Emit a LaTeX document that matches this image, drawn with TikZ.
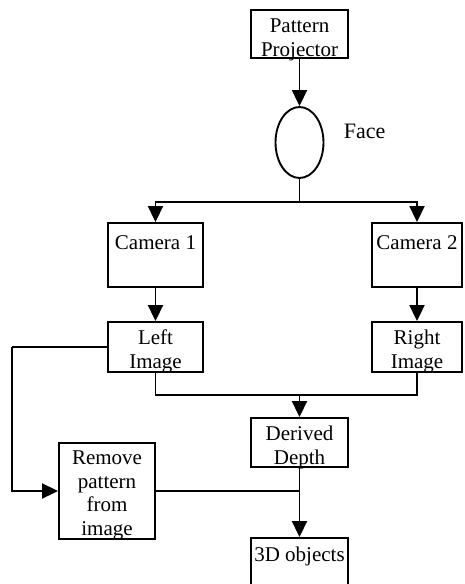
\documentclass[tikz,border=0pt]{standalone}
\usepackage{fontspec}
\setmainfont{Liberation Serif}
\usetikzlibrary{shapes.geometric,arrows.meta}
\begin{document}
\begin{tikzpicture}[x=1pt,y=-1pt,
  line width=1.9pt,
  box/.style={draw,rectangle,inner sep=0pt,minimum width=#1},
  txt/.style={align=center,inner sep=0pt,anchor=north,font=\fontsize{21}{23.5}\selectfont},
  arr/.style={-{Triangle[length=16pt,width=15pt]}}
]
\useasboundingbox (0,0) rectangle (465,584);
\clip (0,0) rectangle (465,584);
% boxes
\node[box=97, minimum height=48] (proj) at (299.5,34) {};
\node[draw,ellipse,inner sep=0pt,minimum width=48,minimum height=71] (face) at (299.5,142.5) {};
\node[box=95, minimum height=64] (cam1) at (155.5,255) {};
\node[box=90, minimum height=64] (cam2) at (417,255) {};
\node[box=95, minimum height=50] (limg) at (155.5,347) {};
\node[box=90, minimum height=50] (rimg) at (417,347) {};
\node[box=97, minimum height=49] (dd) at (299.5,442.5) {};
\node[box=96, minimum height=96] (rem) at (107,491) {};
\node[box=97, minimum height=70] (obj) at (299.5,573) {};
% texts
\node[txt] (tproj) at (299.5,15.5) {\strut Pattern\\Projector};
\node[inner sep=0pt,anchor=base west,font=\fontsize{22}{23.5}\selectfont] (tface) at (343,138) {Face};
\node[txt] (tcam1) at (155.5,231.8) {\strut Camera 1};
\node[txt] (tcam2) at (417,231.8) {\strut Camera 2};
\node[txt] (tlimg) at (155.5,327.5) {\strut Left\\Image};
\node[txt] (trimg) at (417,327.5) {\strut Right\\Image};
\node[txt] (tdd) at (299.5,423.5) {\strut Derived\\Depth};
\node[txt] (trem) at (107,447.5) {\strut Remove\\pattern\\from\\image};
\node[txt] (tobj) at (299.5,544.3) {\strut 3D objects};
% connectors
\coordinate (split) at (299.5,202);
\coordinate (merge) at (299.5,395);
\coordinate (join) at (299.5,491);
\coordinate (leftc) at (12,347);
\draw[arr] (proj.south) -- (face.north);
\draw (face.south) -- (split);
\draw[arr] (split) -| (cam1.north);
\draw[arr] (split) -| (cam2.north);
\draw[arr] (cam1.south) -- (limg.north);
\draw[arr] (cam2.south) -- (rimg.north);
\draw (limg.south) |- (merge);
\draw (rimg.south) |- (merge);
\draw[arr] (merge) -- (dd.north);
\draw (limg.west) -- (leftc);
\draw[arr] (leftc) |- (rem.west);
\draw (rem.east) -- (join);
\draw[arr] (dd.south) -- (obj.north);
\end{tikzpicture}
\end{document}
